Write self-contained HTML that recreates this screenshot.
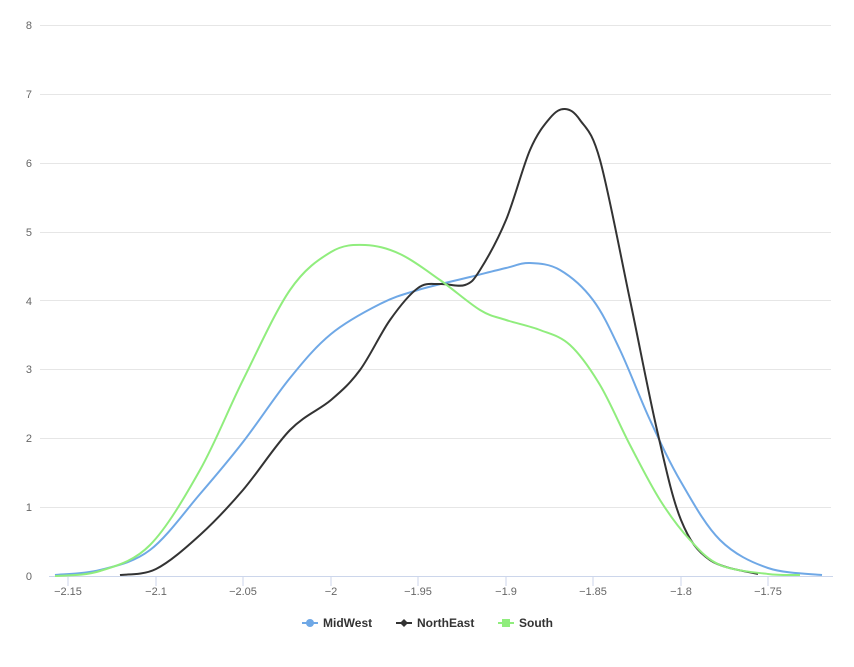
<!DOCTYPE html>
<html><head><meta charset="utf-8"><style>
body{margin:0;background:#fff;font-family:"Liberation Sans",sans-serif}
svg text{font-family:"Liberation Sans",sans-serif;font-size:11px;fill:#666}
</style></head><body>
<svg id="s" width="854" height="662" xmlns="http://www.w3.org/2000/svg">
<g stroke="#e6e6e6" stroke-width="1">
<line x1="40" x2="831" y1="25.5" y2="25.5"/><line x1="40" x2="831" y1="94.5" y2="94.5"/>
<line x1="40" x2="831" y1="163.5" y2="163.5"/><line x1="40" x2="831" y1="232.5" y2="232.5"/>
<line x1="40" x2="831" y1="300.5" y2="300.5"/><line x1="40" x2="831" y1="369.5" y2="369.5"/>
<line x1="40" x2="831" y1="438.5" y2="438.5"/><line x1="40" x2="831" y1="507.5" y2="507.5"/>
</g>
<line x1="49" x2="833" y1="576.5" y2="576.5" stroke="#ccd6eb"/>
<g stroke="#ccd6eb">
<line x1="68" x2="68" y1="576" y2="586"/><line x1="156" x2="156" y1="576" y2="586"/><line x1="243" x2="243" y1="576" y2="586"/><line x1="331" x2="331" y1="576" y2="586"/><line x1="418" x2="418" y1="576" y2="586"/><line x1="506" x2="506" y1="576" y2="586"/><line x1="593" x2="593" y1="576" y2="586"/><line x1="681" x2="681" y1="576" y2="586"/><line x1="768" x2="768" y1="576" y2="586"/>
</g>
<g text-anchor="end">
<text x="32" y="29">8</text><text x="32" y="98">7</text><text x="32" y="167">6</text><text x="32" y="236">5</text><text x="32" y="305">4</text><text x="32" y="373">3</text><text x="32" y="442">2</text><text x="32" y="511">1</text><text x="32" y="580">0</text>
</g>
<g text-anchor="middle">
<text x="68" y="595">−2.15</text><text x="156" y="595">−2.1</text><text x="243" y="595">−2.05</text><text x="331" y="595">−2</text><text x="418" y="595">−1.95</text><text x="506" y="595">−1.9</text><text x="593" y="595">−1.85</text><text x="681" y="595">−1.8</text><text x="768" y="595">−1.75</text>
</g>
<path id="mw" fill="none" stroke="#6fa8e6" stroke-width="2"/>
<path id="ne" fill="none" stroke="#333" stroke-width="2"/>
<path id="so" fill="none" stroke="#90ed7d" stroke-width="2"/>
<g font-weight="bold">
<line x1="302" x2="318" y1="623" y2="623" stroke="#6fa8e6" stroke-width="2"/><circle cx="310" cy="623" r="4" fill="#6fa8e6"/>
<text x="323" y="627" style="font-size:12px;fill:#333;font-weight:bold">MidWest</text>
<line x1="396" x2="412" y1="623" y2="623" stroke="#333" stroke-width="2"/><path d="M404 619 L408 623 L404 627 L400 623Z" fill="#333"/>
<text x="417" y="627" style="font-size:12px;fill:#333;font-weight:bold">NorthEast</text>
<line x1="498" x2="514" y1="623" y2="623" stroke="#90ed7d" stroke-width="2"/><rect x="502" y="619" width="8" height="8" fill="#90ed7d"/>
<text x="519" y="627" style="font-size:12px;fill:#333;font-weight:bold">South</text>
</g>
</svg>
<script>
function cr(p){let d="M"+p[0][0]+" "+p[0][1];for(let i=0;i<p.length-1;i++){const a=p[i-1]||p[i],b=p[i],c=p[i+1],e=p[i+2]||c;
d+=" C"+(b[0]+(c[0]-a[0])/6)+" "+(b[1]+(c[1]-a[1])/6)+" "+(c[0]-(e[0]-b[0])/6)+" "+(c[1]-(e[1]-b[1])/6)+" "+c[0]+" "+c[1];}return d;}
const mw=[[55,575],[100,570],[150,550],[200,494],[243,442],[290,378],[331,334],[380,304],[418,290],[470,277],[506,268],[530,263],[560,270],[593,300],[620,350],[650,420],[681,482],[720,540],[768,568],[822,575]];
const ne=[[120,575],[156,569],[200,535],[243,490],[290,430],[331,400],[360,370],[390,320],[418,288],[440,284],[465,285],[480,270],[506,220],[530,150],[550,118],[565,109],[580,120],[600,160],[630,300],[657,430],[681,520],[710,560],[758,574]];
const so=[[55,576],[100,571],[150,545],[200,470],[243,380],[290,290],[331,252],[365,245],[400,254],[440,280],[480,310],[506,320],[540,330],[570,345],[600,385],[630,445],[660,500],[690,540],[720,565],[768,574],[800,575]];
document.getElementById("mw").setAttribute("d",cr(mw));
document.getElementById("ne").setAttribute("d",cr(ne));
document.getElementById("so").setAttribute("d",cr(so));
</script>
</body></html>
